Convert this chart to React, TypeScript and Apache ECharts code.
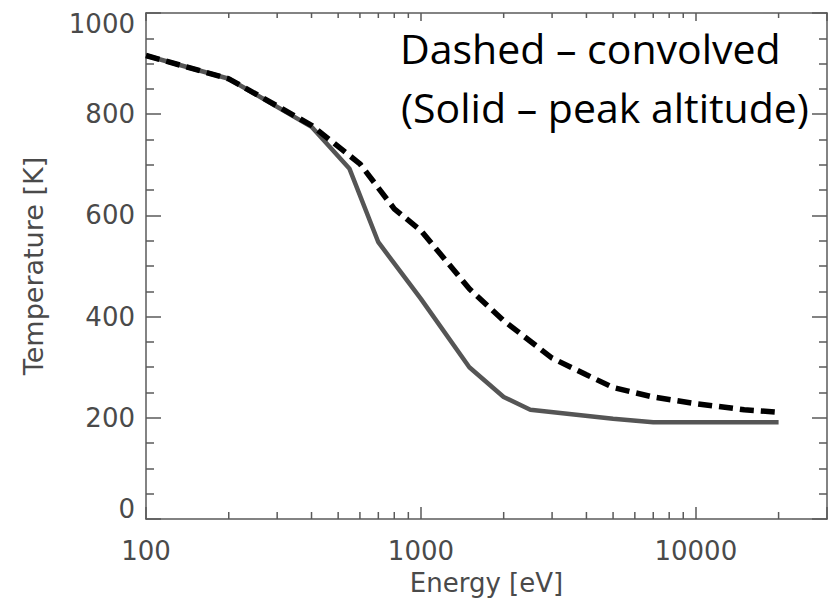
import React, { useEffect, useRef } from "react";
import * as echarts from "echarts";

// Energy [eV] and temperature [K]
const solidEnergy = [100, 200, 400, 550, 700, 900, 1000, 1500, 2000, 2500, 5000, 7000, 20000];
const solidTemp = [916, 870, 775, 692, 547, 468, 435, 300, 241, 216, 198, 191, 191];

const dashedEnergy = [100, 200, 400, 600, 800, 1000, 1500, 2000, 3000, 4000, 5000, 7000, 10000, 15000, 20000];
const dashedTemp = [916, 870, 778, 702, 613, 570, 455, 392, 318, 285, 260, 241, 228, 216, 211];

const xMinorTicks = [200, 300, 400, 500, 600, 700, 800, 900, 2000, 3000, 4000, 5000, 6000, 7000, 8000, 9000, 20000];
const yTickValues = [0, 200, 400, 600, 800, 1000];

const annotationLines = ["Dashed \u2013 convolved", "(Solid \u2013 peak altitude)"];

const AXIS_COLOR = "#5a5a5a";
const LABEL_COLOR = "#4a4a4a";
const LABEL_FONT = "DejaVu Sans";

export default function App() {
  const ref = useRef<HTMLDivElement>(null);

  useEffect(() => {
    if (!ref.current) return;
    const chart = echarts.init(ref.current, null, { renderer: "svg" });

    const logFormatter = (v: number) => {
      const l = Math.log10(v);
      if (Math.abs(l - Math.round(l)) < 1e-6) return String(Math.round(Math.pow(10, Math.round(l))));
      return "";
    };

    const yFormatter = (v: number) => {
      if (v === yTickValues[0]) return "{low|" + v + "}";
      if (v === yTickValues[yTickValues.length - 1]) return "{high|" + v + "}";
      return String(v);
    };

    const axisLine = { show: true, onZero: false, lineStyle: { color: AXIS_COLOR, width: 1.5 } };
    const tickStyle = { color: AXIS_COLOR, width: 1.5 };

    const option: any = {
      animation: false,
      backgroundColor: "#ffffff",
      grid: { left: 146, right: 11, top: 13, bottom: 87, containLabel: false, outerBoundsMode: "none" },
      xAxis: [
        {
          type: "log",
          logBase: 10,
          min: 100,
          max: 30000,
          position: "bottom",
          axisLine,
          axisTick: { show: true, inside: true, length: 12, lineStyle: tickStyle },
          minorTick: { show: false },
          splitLine: { show: false },
          axisLabel: {
            formatter: logFormatter,
            fontFamily: LABEL_FONT,
            fontSize: 26,
            color: LABEL_COLOR,
            margin: 19,
          },
          name: "Energy [eV]",
          nameLocation: "middle",
          nameGap: 51,
          nameTextStyle: { fontFamily: LABEL_FONT, fontSize: 26, color: LABEL_COLOR },
        },
        {
          type: "log",
          logBase: 10,
          min: 100,
          max: 30000,
          position: "top",
          axisLine,
          axisTick: { show: true, inside: true, length: 8, lineStyle: tickStyle },
          splitLine: { show: false },
          axisLabel: { show: false },
        },
      ],
      yAxis: [
        {
          type: "value",
          min: 0,
          max: 1000,
          interval: 200,
          position: "left",
          axisLine,
          axisTick: { show: true, inside: true, length: 15, lineStyle: tickStyle },
          minorTick: { show: true, splitNumber: 4, length: 8, lineStyle: tickStyle },
          splitLine: { show: false },
          axisLabel: {
            formatter: yFormatter,
            fontFamily: LABEL_FONT,
            fontSize: 26,
            color: LABEL_COLOR,
            margin: 11,
            rich: {
              low: { fontFamily: LABEL_FONT, fontSize: 26, color: LABEL_COLOR, padding: [0, 0, 20, 0] },
              high: { fontFamily: LABEL_FONT, fontSize: 26, color: LABEL_COLOR, padding: [22, 0, 0, 0] },
            },
          },
          name: "Temperature [K]",
          nameLocation: "middle",
          nameGap: 99,
          nameTextStyle: { fontFamily: LABEL_FONT, fontSize: 27, color: LABEL_COLOR },
        },
        {
          type: "value",
          min: 0,
          max: 1000,
          interval: 200,
          position: "right",
          axisLine,
          axisTick: { show: true, inside: true, length: 15, lineStyle: tickStyle },
          minorTick: { show: true, splitNumber: 4, length: 8, lineStyle: tickStyle },
          splitLine: { show: false },
          axisLabel: { show: false },
        },
      ],
      series: [
        {
          type: "custom",
          name: "xMinorTicks",
          xAxisIndex: 0,
          yAxisIndex: 0,
          silent: true,
          clip: false,
          data: xMinorTicks.map((v) => [v, 0]),
          renderItem: (params: any, api: any) => {
            const x = api.coord([api.value(0), 0])[0];
            const cs = params.coordSys;
            const bottom = cs.y + cs.height;
            const top = cs.y;
            const style = { stroke: AXIS_COLOR, lineWidth: 1.5 };
            return {
              type: "group",
              children: [
                { type: "line", shape: { x1: x, y1: bottom, x2: x, y2: bottom - 7 }, style },
                { type: "line", shape: { x1: x, y1: top, x2: x, y2: top + 5 }, style },
              ],
            };
          },
        },
        {
          type: "line",
          name: "Solid - peak altitude",
          xAxisIndex: 0,
          yAxisIndex: 0,
          data: solidEnergy.map((e, i) => [e, solidTemp[i]]),
          showSymbol: false,
          symbol: "none",
          lineStyle: { color: "#555555", width: 4.5, type: "solid" },
        },
        {
          type: "line",
          name: "Dashed - convolved",
          xAxisIndex: 0,
          yAxisIndex: 0,
          data: dashedEnergy.map((e, i) => [e, dashedTemp[i]]),
          showSymbol: false,
          symbol: "none",
          lineStyle: { color: "#000000", width: 5.5, type: [14, 7] },
        },
      ],
      graphic: [
        {
          type: "text",
          x: 400,
          y: 48,
          style: {
            text: annotationLines[0],
            fontFamily: "Open Sans",
            fontSize: 41,
            fill: "#000000",
            align: "left",
            verticalAlign: "middle",
          },
        },
        {
          type: "text",
          x: 401,
          y: 107,
          style: {
            text: annotationLines[1],
            fontFamily: "Open Sans",
            fontSize: 41,
            fill: "#000000",
            align: "left",
            verticalAlign: "middle",
          },
        },
      ],
    };

    chart.setOption(option);
    return () => chart.dispose();
  }, []);

  return (
    <div
      ref={ref}
      style={{ position: "absolute", left: 0, top: 0, width: 838, height: 606 }}
    />
  );
}
